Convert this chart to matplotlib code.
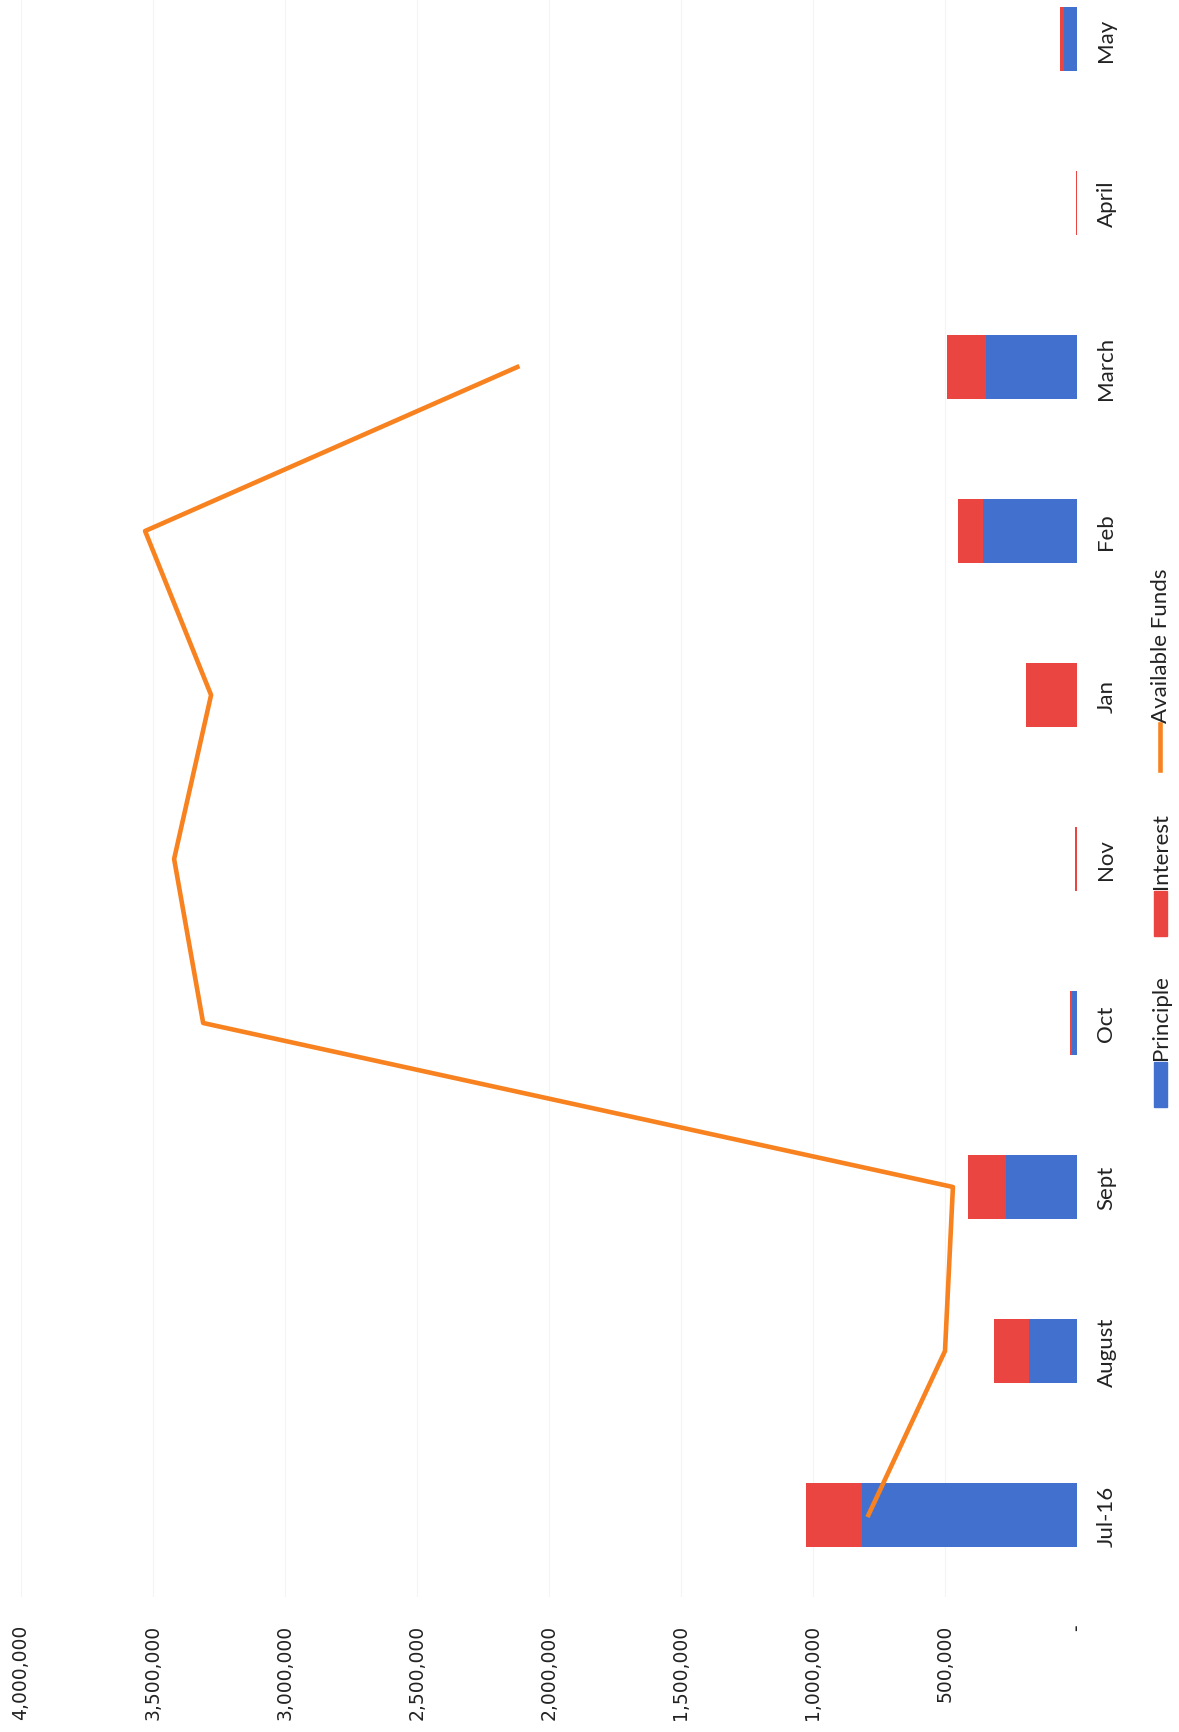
import numpy as np
import matplotlib.pyplot as plt
from matplotlib.patches import Rectangle
from matplotlib.lines import Line2D
from matplotlib.ticker import FuncFormatter

months = ['Jul-16', 'August', 'Sept', 'Oct', 'Nov', 'Jan', 'Feb', 'March', 'April', 'May']
principle = [814000, 182000, 270000, 20000, 0, 0, 356000, 345000, 0, 50000]
interest = [212000, 134000, 143000, 7000, 8000, 193000, 95000, 148000, 3000, 14000]
available = [790000, 500000, 470000, 3310000, 3420000, 3280000, 3530000, 2120000, np.nan, np.nan]
value_ticks = np.arange(0, 4000001, 500000)

BLUE = '#4270CF'
RED = '#EA4541'
ORANGE = '#F7821F'

W, H = 1179, 1733
fig = plt.figure(figsize=(W / 100, H / 100), dpi=100)
ax = fig.add_axes([21 / W, 1 - 1598 / H, 1056 / W, 1598 / H])

y = np.arange(len(months))
ax.barh(y, principle, height=0.39, color=BLUE)
ax.barh(y, interest, left=principle, height=0.39, color=RED)
ax.plot(available, y, color=ORANGE, lw=3.3)

# value axis runs right-to-left, categories bottom-to-top (page is turned)
ax.set_xlim(4000000, 0)
ax.set_ylim(-0.5, 9.244)
ax.set_xticks(value_ticks)
ax.xaxis.set_major_formatter(FuncFormatter(lambda v, p: '-' if v == 0 else f'{v:,.0f}'))
ax.set_yticks(y, months)
ax.yaxis.tick_right()
ax.grid(axis='x', color='#f4f4f4', lw=0.8)
ax.set_axisbelow(True)
for s in ax.spines.values():
    s.set_visible(False)
ax.tick_params(axis='x', length=0, pad=19, labelsize=13.5, labelrotation=90, labelcolor='#222222')
ax.tick_params(axis='y', length=0, pad=14, labelsize=16, labelrotation=90, labelcolor='#222222')
for t in ax.get_yticklabels():
    t.set_fontfamily('Lato')
    t.set_va('center')
    t.set_ha('left')

# legend, drawn by hand so it can be turned like the rest
items = [('Principle', BLUE, 'patch', 1108),
         ('Interest', RED, 'patch', 937),
         ('Available Funds', ORANGE, 'line', 771)]
for name, col, kind, y0 in items:
    if kind == 'patch':
        fig.add_artist(Rectangle((1154 / W, 1 - y0 / H), 13 / W, 45 / H,
                                 transform=fig.transFigure, color=col))
    else:
        fig.add_artist(Line2D([1160 / W] * 2, [1 - y0 / H, 1 - (y0 - 46) / H],
                              transform=fig.transFigure, color=col, lw=3.3))
    fig.text(1161 / W, 1 - (y0 - 48) / H, name, rotation=90, ha='center', va='bottom',
             fontsize=16, family='Lato', color='#222222')

fig.savefig('out.png', dpi=100)
